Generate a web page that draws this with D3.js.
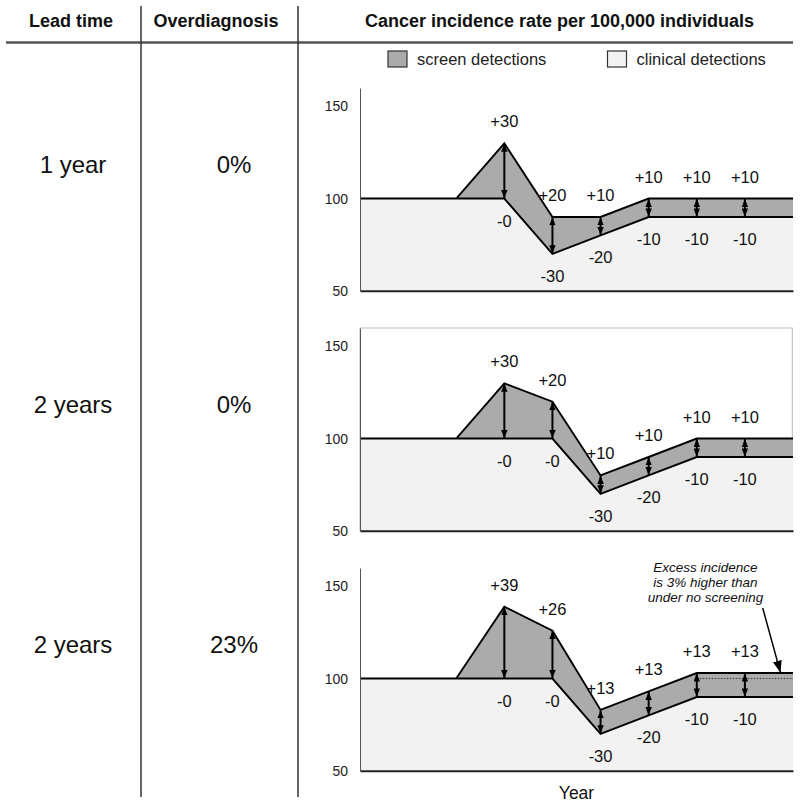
<!DOCTYPE html>
<html>
<head>
<meta charset="utf-8">
<script src="https://cdn.jsdelivr.net/npm/d3@7"></script>
<style>
  html, body { margin: 0; padding: 0; background: #fff; }
  svg { display: block; font-family: "Liberation Sans", Arial, Helvetica, sans-serif; }
</style>
</head>
<body>
<svg id="chart" width="800" height="806"></svg>
<script>
// ---------------- data ----------------
const years = [0, 1, 2, 3, 4, 5, 6, 7, 8, 9];
const arrowYears = [3, 4, 5, 6, 7, 8];

const leadTimes = ["1 year", "2 years", "2 years"];
const overdiagnosis = ["0%", "0%", "23%"];

const clinical1 = [100, 100, 100, 100, 70, 80, 90, 90, 90, 90];
const total1    = [100, 100, 100, 130, 90, 90, 100, 100, 100, 100];
const clinical2 = [100, 100, 100, 100, 100, 70, 80, 90, 90, 90];
const total2    = [100, 100, 100, 130, 120, 80, 90, 100, 100, 100];
const clinical3 = [100, 100, 100, 100, 100, 70, 80, 90, 90, 90];
const total3    = [100, 100, 100, 139, 126, 83, 93, 103, 103, 103];

const upLabels1   = ["+30", "+20", "+10", "+10", "+10", "+10"];
const downLabels1 = ["-0", "-30", "-20", "-10", "-10", "-10"];
const upLabels2   = ["+30", "+20", "+10", "+10", "+10", "+10"];
const downLabels2 = ["-0", "-0", "-30", "-20", "-10", "-10"];
const upLabels3   = ["+39", "+26", "+13", "+13", "+13", "+13"];
const downLabels3 = ["-0", "-0", "-30", "-20", "-10", "-10"];

const yTicks = [50, 100, 150];
const yDomain = [50, 160];
const baselineValue = 100;

const headers = ["Lead time", "Overdiagnosis", "Cancer incidence rate per 100,000 individuals"];
const legendLabels = ["screen detections", "clinical detections"];
const annotationLines = ["Excess incidence", "is 3% higher than", "under no screening"];
const xAxisTitle = "Year";

const panels = [
  { clinical: clinical1, total: total1, up: upLabels1, down: downLabels1 },
  { clinical: clinical2, total: total2, up: upLabels2, down: downLabels2, boxed: true },
  { clinical: clinical3, total: total3, up: upLabels3, down: downLabels3, excess: true }
];

// ---------------- drawing ----------------
const svg = d3.select("#chart");
const SCREEN = "#ababab", CLIN = "#f2f2f2";

const defs = svg.append("defs");
function marker(id, w, l) {
  defs.append("marker").attr("id", id)
    .attr("viewBox", `0 0 ${l} ${w}`).attr("refX", l).attr("refY", w / 2)
    .attr("markerWidth", l).attr("markerHeight", w)
    .attr("markerUnits", "userSpaceOnUse").attr("orient", "auto-start-reverse")
    .append("path").attr("d", `M0,0L${l},${w / 2}L0,${w}Z`).attr("fill", "#000");
}
marker("ah", 6.5, 8);
marker("ahBig", 9, 12);

// header
const headerX = [71, 216, 559.5];
svg.selectAll("text.hdr").data(headers).join("text").attr("class", "hdr")
  .attr("x", (d, i) => headerX[i]).attr("y", 27)
  .attr("text-anchor", "middle").attr("font-weight", "bold").attr("font-size", 18)
  .attr("fill", "#111").text(d => d);

svg.append("line").attr("x1", 6).attr("x2", 793).attr("y1", 42.5).attr("y2", 42.5)
  .attr("stroke", "#555").attr("stroke-width", 2.5);
[141, 298].forEach(x => svg.append("line").attr("x1", x).attr("x2", x)
  .attr("y1", 6).attr("y2", 797).attr("stroke", "#333").attr("stroke-width", 1.5));

// legend
const legendX = [388, 607.5];
const lg = svg.selectAll("g.lg").data(legendLabels).join("g").attr("class", "lg")
  .attr("transform", (d, i) => `translate(${legendX[i]},51)`);
lg.append("rect").attr("width", 19).attr("height", 16)
  .attr("fill", (d, i) => i === 0 ? SCREEN : CLIN).attr("stroke", "#333").attr("stroke-width", 1.2);
lg.append("text").attr("x", 29).attr("y", 14).attr("font-size", 16.5).attr("fill", "#222").text(d => d);

// scales
const x = d3.scaleLinear().domain([0, 9]).range([360, 793]);

panels.forEach((p, pi) => {
  const bottom = 290.7 + 240 * pi;
  const y = d3.scaleLinear().domain(yDomain).range([bottom, bottom - 202.7]);
  const g = svg.append("g");

  g.append("text").attr("x", 73).attr("y", 173 + 240 * pi).attr("text-anchor", "middle")
    .attr("font-size", 24).attr("fill", "#111").text(leadTimes[pi]);
  g.append("text").attr("x", 234).attr("y", 173 + 240 * pi).attr("text-anchor", "middle")
    .attr("font-size", 24).attr("fill", "#111").text(overdiagnosis[pi]);

  const rows = years.map((yr, i) => ({ yr, c: p.clinical[i], t: p.total[i] }));

  if (p.boxed) {
    g.append("rect").attr("x", x(0)).attr("y", y(yDomain[1]))
      .attr("width", x(9) - 0.7 - x(0)).attr("height", y(yDomain[0]) - y(yDomain[1]))
      .attr("fill", "none").attr("stroke", "#bbb").attr("stroke-width", 1);
  }

  g.append("path").datum(rows)
    .attr("d", d3.area().x(d => x(d.yr)).y0(y(yDomain[0])).y1(d => y(d.c)))
    .attr("fill", CLIN);
  g.append("path").datum(rows)
    .attr("d", d3.area().x(d => x(d.yr)).y0(d => y(d.c)).y1(d => y(d.t)))
    .attr("fill", SCREEN);

  if (p.excess) {
    g.append("line").attr("x1", x(7)).attr("x2", x(9))
      .attr("y1", y(baselineValue)).attr("y2", y(baselineValue))
      .attr("stroke", "#333").attr("stroke-width", 1).attr("stroke-dasharray", "1.5,1.5");
  }

  const ln = d3.line().x(d => x(d.yr));
  g.append("path").datum(rows).attr("d", ln.y(d => y(d.c)))
    .attr("fill", "none").attr("stroke", "#000").attr("stroke-width", 1.9);
  g.append("path").datum(rows.slice(2)).attr("d", d3.line().x(d => x(d.yr)).y(d => y(d.t)))
    .attr("fill", "none").attr("stroke", "#000").attr("stroke-width", 1.9);

  const yAxis = g.append("g").attr("transform", `translate(${x(0)},0)`)
    .call(d3.axisLeft(y).tickValues(yTicks).tickSize(0).tickPadding(12).tickFormat(d3.format("d")));
  yAxis.select(".domain").attr("stroke", "#555").attr("stroke-width", 1);
  yAxis.selectAll("text").attr("font-size", 14).attr("fill", "#222")
    .attr("font-family", "Liberation Sans, Arial, sans-serif");

  const xAxis = g.append("g").attr("transform", `translate(0,${y(yDomain[0])})`)
    .call(d3.axisBottom(x).tickValues([]).tickSize(0).tickSizeOuter(0));
  xAxis.select(".domain").attr("stroke", "#222").attr("stroke-width", 2);

  const arr = arrowYears.map((yr, k) => ({ yr, c: p.clinical[yr], t: p.total[yr], up: p.up[k], down: p.down[k] }));
  g.selectAll("line.arr").data(arr).join("line").attr("class", "arr")
    .attr("x1", d => x(d.yr)).attr("x2", d => x(d.yr))
    .attr("y1", d => y(d.c) - 0.5).attr("y2", d => y(d.t) + 0.5)
    .attr("stroke", "#000").attr("stroke-width", 2)
    .attr("marker-start", "url(#ah)").attr("marker-end", "url(#ah)");

  g.selectAll("text.up").data(arr).join("text").attr("class", "up")
    .attr("x", d => x(d.yr)).attr("y", d => y(d.t) - 16)
    .attr("text-anchor", "middle").attr("font-size", 16.5).attr("fill", "#111").text(d => d.up);
  g.selectAll("text.down").data(arr).join("text").attr("class", "down")
    .attr("x", d => x(d.yr)).attr("y", d => y(d.c) + 28)
    .attr("text-anchor", "middle").attr("font-size", 16.5).attr("fill", "#111").text(d => d.down);

  if (p.excess) {
    const annX = 7.18;
    const annY = [157.6, 149.7, 141.8];
    g.selectAll("text.ann").data(annotationLines).join("text").attr("class", "ann")
      .attr("x", x(annX)).attr("y", (d, i) => y(annY[i]))
      .attr("text-anchor", "middle").attr("font-size", 13.5).attr("font-style", "italic")
      .attr("fill", "#111").text(d => d);
    g.append("line")
      .attr("x1", x(8.37)).attr("y1", y(138.3))
      .attr("x2", x(8.74)).attr("y2", y(103.2))
      .attr("stroke", "#000").attr("stroke-width", 1.5).attr("marker-end", "url(#ahBig)");

    g.append("text").attr("x", (x(0) + x(9)) / 2).attr("y", y(yDomain[0]) + 28.6)
      .attr("text-anchor", "middle").attr("font-size", 17.5).attr("fill", "#111").text(xAxisTitle);
  }
});
</script>
</body>
</html>
